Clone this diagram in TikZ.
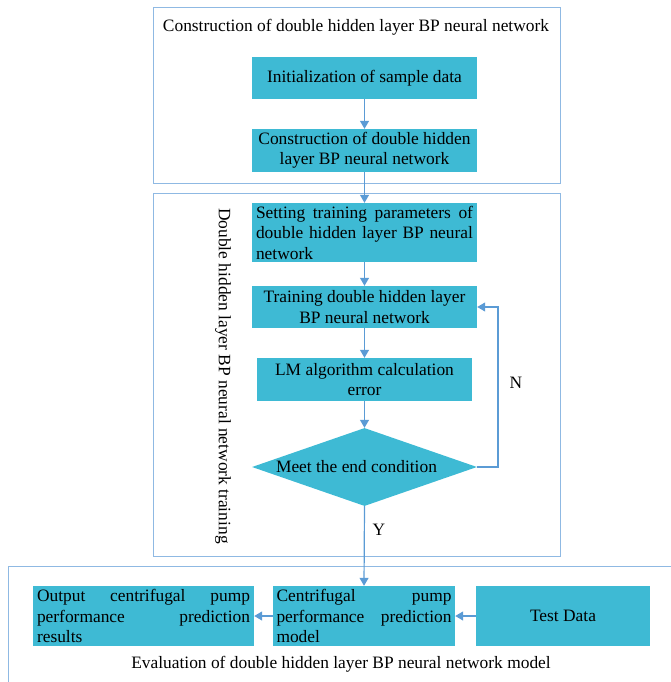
\documentclass[tikz,border=0pt]{standalone}
\usepackage{fontspec}
\setmainfont{Liberation Serif}
\usetikzlibrary{shapes.geometric, arrows, arrows.meta}

\definecolor{boxfill}{HTML}{3EBAD4}
\definecolor{linkblue}{HTML}{5B9BD5}
\definecolor{frameblue}{HTML}{8FB9E3}

\tikzstyle{process} = [rectangle, minimum width=225pt, minimum height=42pt, inner ysep=1pt, text centered, fill=boxfill]
\tikzstyle{decision} = [diamond, aspect=2.9, minimum width=225pt, minimum height=78pt, inner sep=0pt, text centered, fill=boxfill]
\tikzstyle{stage} = [draw=frameblue, line width=1pt]
\tikzstyle{arrow} = [draw=linkblue, line width=1.2pt, ->, >={Stealth[length=8pt,width=9pt,inset=0pt]}]

\begin{document}
\begin{tikzpicture}[x=1pt, y=-1pt, font=\fontsize{17.4}{20.5}\selectfont]
\useasboundingbox (0,0) rectangle (671,682);
\clip (0,0) rectangle (671,682);

% stage frames
\draw [stage] (153.5,8) rectangle (560,183);
\draw [stage] (153.5,193) rectangle (560,556);
\draw [stage] (8.5,566.5) rectangle (690,700);

\node (titleA) at (356,27) {Construction of double hidden layer BP neural network};
\node (titleB) [rotate=-90] at (223,376) {Double hidden layer BP neural network training};
\node (titleC) at (341,664) {Evaluation of double hidden layer BP neural network model};

% construction
\node (initData) [process] at (364.5,78) {Initialization of sample data};
\node (buildNet) [process, minimum height=43pt, align=center] at (364.5,150.5) {Construction of double hidden\\layer BP neural network};

% training
\node (setParams) [process, minimum height=59pt, text width=217pt, align=justify] at (364.5,232.5) {Setting training parameters of\linebreak double hidden layer BP neural\linebreak network};
\node (trainNet) [process, align=center] at (364.5,307) {Training double hidden layer\\BP neural network};
\node (lmError) [process, minimum width=215pt, minimum height=43pt, align=center] at (364.5,379.5) {LM algorithm calculation\\error};
\node (endCheck) [decision] at (364.5,467) {\hspace*{-16pt}Meet the end condition};

% evaluation
\node (outResult) [process, minimum width=221pt, minimum height=60pt, text width=213pt, align=justify] at (143.5,616) {Output centrifugal pump\linebreak performance prediction\linebreak results};
\node (pumpModel) [process, minimum width=182pt, minimum height=60pt, text width=175pt, align=justify] at (364,616) {Centrifugal pump\linebreak performance prediction\linebreak model};
\node (testData) [process, minimum width=174pt, minimum height=60pt] at (563,616) {Test Data};

\coordinate (loopN) at (498,467);

\draw [arrow] (initData) -- (buildNet);
\draw [arrow] (buildNet) -- (setParams);
\draw [arrow] (setParams) -- (trainNet);
\draw [arrow] (trainNet) -- (lmError);
\draw [arrow] (lmError) -- (endCheck);
\draw [arrow] (endCheck.east) -- (loopN) |- (trainNet.east);
\draw [arrow] (endCheck.south) -- (pumpModel.north);
\draw [arrow] (testData) -- (pumpModel);
\draw [arrow] (pumpModel) -- (outResult);

\node (labelN) at (516,383) {N};
\node (labelY) at (379,530) {Y};

\end{tikzpicture}
\end{document}
